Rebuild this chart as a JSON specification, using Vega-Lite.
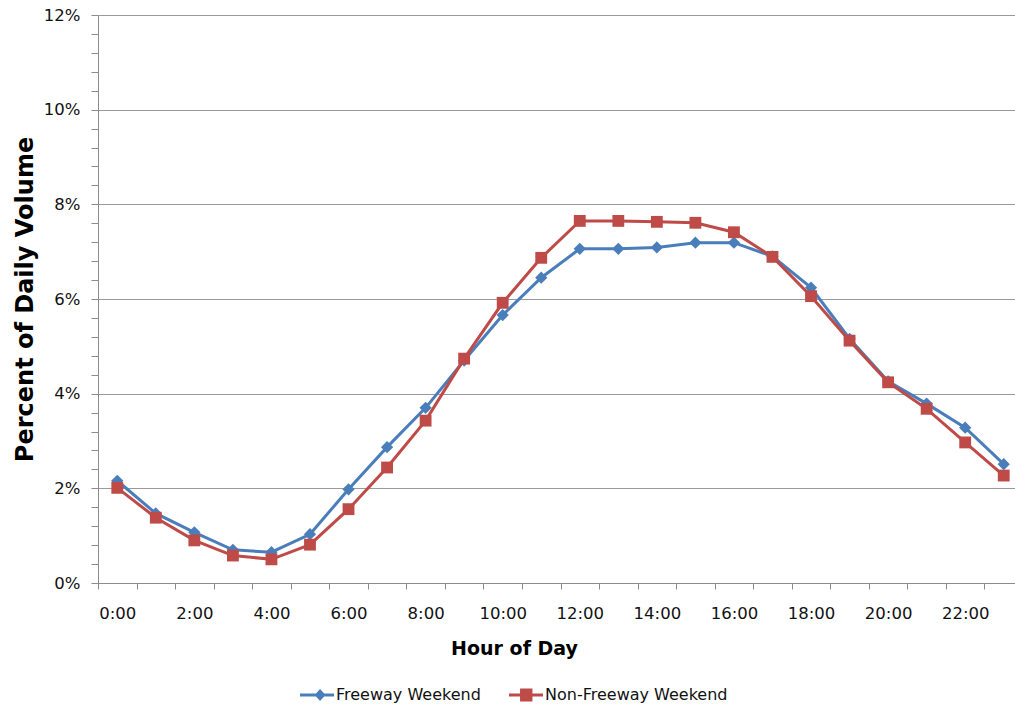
{
  "$schema": "https://vega.github.io/schema/vega-lite/v6.json",
  "autosize": {"type": "none"},
  "padding": {"left": 98, "top": 15, "right": 0, "bottom": 130},
  "width": 917,
  "height": 568,
  "background": "white",
  "config": {
    "view": {"stroke": null},
    "font": "DejaVu Sans",
    "axis": {"labelFont": "DejaVu Sans", "titleFont": "DejaVu Sans", "labelColor": "#111", "titleColor": "#000"}
  },
  "data": {
    "values": [
      {"hour": "0:00", "series": "Freeway Weekend", "pct": 0.0216},
      {"hour": "1:00", "series": "Freeway Weekend", "pct": 0.0147},
      {"hour": "2:00", "series": "Freeway Weekend", "pct": 0.0107},
      {"hour": "3:00", "series": "Freeway Weekend", "pct": 0.0070},
      {"hour": "4:00", "series": "Freeway Weekend", "pct": 0.0065},
      {"hour": "5:00", "series": "Freeway Weekend", "pct": 0.0103},
      {"hour": "6:00", "series": "Freeway Weekend", "pct": 0.0198},
      {"hour": "7:00", "series": "Freeway Weekend", "pct": 0.0287},
      {"hour": "8:00", "series": "Freeway Weekend", "pct": 0.0370},
      {"hour": "9:00", "series": "Freeway Weekend", "pct": 0.0470},
      {"hour": "10:00", "series": "Freeway Weekend", "pct": 0.0566},
      {"hour": "11:00", "series": "Freeway Weekend", "pct": 0.0645},
      {"hour": "12:00", "series": "Freeway Weekend", "pct": 0.0706},
      {"hour": "13:00", "series": "Freeway Weekend", "pct": 0.0706},
      {"hour": "14:00", "series": "Freeway Weekend", "pct": 0.0709},
      {"hour": "15:00", "series": "Freeway Weekend", "pct": 0.0719},
      {"hour": "16:00", "series": "Freeway Weekend", "pct": 0.0719},
      {"hour": "17:00", "series": "Freeway Weekend", "pct": 0.0690},
      {"hour": "18:00", "series": "Freeway Weekend", "pct": 0.0624},
      {"hour": "19:00", "series": "Freeway Weekend", "pct": 0.0516},
      {"hour": "20:00", "series": "Freeway Weekend", "pct": 0.0426},
      {"hour": "21:00", "series": "Freeway Weekend", "pct": 0.0379},
      {"hour": "22:00", "series": "Freeway Weekend", "pct": 0.0328},
      {"hour": "23:00", "series": "Freeway Weekend", "pct": 0.0251},
      {"hour": "0:00", "series": "Non-Freeway Weekend", "pct": 0.0201},
      {"hour": "1:00", "series": "Non-Freeway Weekend", "pct": 0.0138},
      {"hour": "2:00", "series": "Non-Freeway Weekend", "pct": 0.0090},
      {"hour": "3:00", "series": "Non-Freeway Weekend", "pct": 0.0058},
      {"hour": "4:00", "series": "Non-Freeway Weekend", "pct": 0.0050},
      {"hour": "5:00", "series": "Non-Freeway Weekend", "pct": 0.0081},
      {"hour": "6:00", "series": "Non-Freeway Weekend", "pct": 0.0156},
      {"hour": "7:00", "series": "Non-Freeway Weekend", "pct": 0.0244},
      {"hour": "8:00", "series": "Non-Freeway Weekend", "pct": 0.0343},
      {"hour": "9:00", "series": "Non-Freeway Weekend", "pct": 0.0474},
      {"hour": "10:00", "series": "Non-Freeway Weekend", "pct": 0.0592},
      {"hour": "11:00", "series": "Non-Freeway Weekend", "pct": 0.0687},
      {"hour": "12:00", "series": "Non-Freeway Weekend", "pct": 0.0765},
      {"hour": "13:00", "series": "Non-Freeway Weekend", "pct": 0.0765},
      {"hour": "14:00", "series": "Non-Freeway Weekend", "pct": 0.0763},
      {"hour": "15:00", "series": "Non-Freeway Weekend", "pct": 0.0761},
      {"hour": "16:00", "series": "Non-Freeway Weekend", "pct": 0.0741},
      {"hour": "17:00", "series": "Non-Freeway Weekend", "pct": 0.0689},
      {"hour": "18:00", "series": "Non-Freeway Weekend", "pct": 0.0606},
      {"hour": "19:00", "series": "Non-Freeway Weekend", "pct": 0.0512},
      {"hour": "20:00", "series": "Non-Freeway Weekend", "pct": 0.0424},
      {"hour": "21:00", "series": "Non-Freeway Weekend", "pct": 0.0368},
      {"hour": "22:00", "series": "Non-Freeway Weekend", "pct": 0.0297},
      {"hour": "23:00", "series": "Non-Freeway Weekend", "pct": 0.0227}
    ]
  },
  "encoding": {
    "x": {
      "field": "hour", "type": "ordinal", "sort": null,
      "scale": {"type": "band", "paddingInner": 0, "paddingOuter": 0, "range": [0, 925]},
      "axis": {
        "title": "Hour of Day",
        "titleFontSize": 19, "titleFontWeight": "bold", "titleX": 416, "titlePadding": 18,
        "labelAngle": 0, "labelFontSize": 16.5, "labelPadding": 16,
        "labelExpr": "toNumber(split(datum.value, ':')[0]) % 2 == 0 ? datum.value : ''",
        "tickBand": "extent", "tickSize": 6, "tickColor": "#8c8c8c", "domainColor": "#8c8c8c",
        "grid": false
      }
    },
    "y": {
      "field": "pct", "type": "quantitative",
      "scale": {"domain": [0, 0.12], "nice": false},
      "axis": {
        "title": "Percent of Daily Volume",
        "titleFontSize": 24, "titleFontWeight": "bold", "titlePadding": 6,
        "values": [0, 0.004, 0.008, 0.012, 0.016, 0.02, 0.024, 0.028, 0.032, 0.036, 0.04, 0.044, 0.048, 0.052, 0.056, 0.06, 0.064, 0.068, 0.072, 0.076, 0.08, 0.084, 0.088, 0.092, 0.096, 0.1, 0.104, 0.108, 0.112, 0.116, 0.12],
        "labelExpr": "round(datum.value * 1000) % 20 == 0 ? format(datum.value, '.0%') : ''",
        "labelFontSize": 16.5, "labelPadding": 11,
        "tickSize": 7, "tickColor": "#8c8c8c", "domainColor": "#8c8c8c",
        "grid": true, "gridColor": "#9a9a9a",
        "gridOpacity": {"condition": {"test": "round(datum.value * 1000) % 20 == 0", "value": 1}, "value": 0}
      }
    }
  },
  "layer": [
    {
      "mark": {"type": "point", "filled": true, "size": 1},
      "encoding": {
        "color": {
          "field": "series", "type": "nominal",
          "scale": {"domain": ["Freeway Weekend", "Non-Freeway Weekend"], "range": ["#4A7EBB", "#BE4B48"]},
          "legend": {
            "title": null, "orient": "none", "direction": "horizontal",
            "legendX": 202, "legendY": 663,
            "symbolSize": 1156, "symbolOpacity": 1, "symbolStrokeWidth": 0,
            "labelFont": "DejaVu Sans", "labelFontSize": 16, "labelOffset": 2, "labelLimit": 400,
            "columnPadding": 28, "labelColor": "#111"
          }
        },
        "shape": {
          "field": "series", "type": "nominal",
          "scale": {
            "domain": ["Freeway Weekend", "Non-Freeway Weekend"],
            "range": [
              "M-1,-0.09L1,-0.09L1,0.09L-1,0.09Z M0.18,-0.36L0.5,0L0.18,0.36L-0.14,0Z",
              "M-1,-0.09L1,-0.09L1,0.09L-1,0.09Z M-0.35,-0.38L0.38,-0.38L0.38,0.38L-0.35,0.38Z"
            ]
          },
          "legend": {
            "title": null, "orient": "none", "direction": "horizontal",
            "legendX": 202, "legendY": 663,
            "symbolSize": 1156, "symbolOpacity": 1, "symbolStrokeWidth": 0,
            "labelFont": "DejaVu Sans", "labelFontSize": 16, "labelOffset": 2, "labelLimit": 400,
            "columnPadding": 28, "labelColor": "#111"
          }
        }
      }
    },
    {
      "mark": {"type": "line", "strokeWidth": 3},
      "encoding": {"color": {"field": "series", "type": "nominal", "legend": null}}
    },
    {
      "transform": [{"filter": "datum.series == 'Freeway Weekend'"}],
      "mark": {"type": "point", "shape": "diamond", "filled": true, "size": 150, "opacity": 1, "color": "#4A7EBB"}
    },
    {
      "transform": [{"filter": "datum.series == 'Non-Freeway Weekend'"}],
      "mark": {"type": "point", "shape": "square", "filled": true, "size": 140, "opacity": 1, "color": "#BE4B48"}
    }
  ]
}
